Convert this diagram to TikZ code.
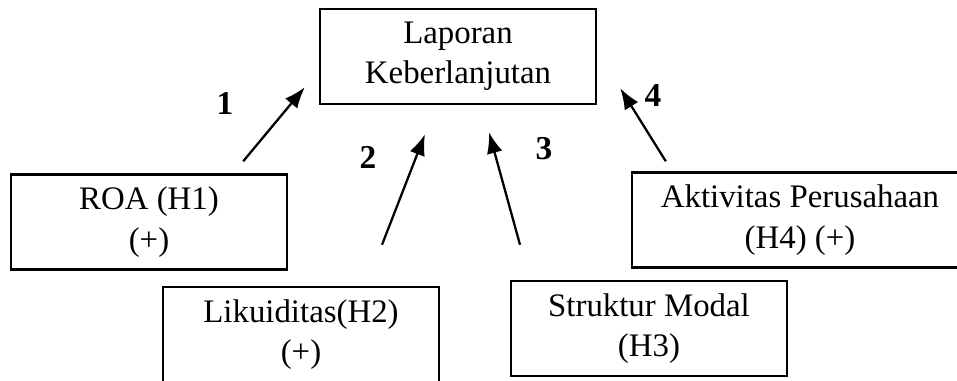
\documentclass[tikz,border=0pt]{standalone}
\usepackage{fontspec}
\setmainfont{Liberation Serif}
\usetikzlibrary{arrows.meta,positioning}
\tikzstyle{arrow} = [line width=1.3pt,-{Latex[length=12pt,width=9pt]}]

\begin{document}
\begin{tikzpicture}[
    x=0.02cm, y=-0.02cm,
    box/.style={rectangle, draw=black, line width=1.4pt, minimum width=5.52cm, minimum height=1.9cm,
        align=center, font=\fontsize{18.7}{23}\selectfont},
    num/.style={font=\fontsize{19}{23}\selectfont\bfseries}
]
\useasboundingbox (0,0) rectangle (957,380);
\clip (0,0) rectangle (957,380);

% Dependent variable
\node[box] (lap) at (458,56.5) {Laporan\\Keberlanjutan};

% Independent variables
\node[box] (roa) at (149,222) {ROA (H1)\\(+)};
\node[box] (liq) at (301,334.5) {Likuiditas(H2)\\(+)};
\node[box] (str) at (649,328.5) {Struktur Modal\\(H3)};
\node[box, minimum width=6.72cm] (akt) at (800,220) {Aktivitas Perusahaan\\(H4) (+)};

% Hypothesis arrows
\draw[arrow] ([shift={(-45,-12)}]roa.north east) -- ([shift={(-14,-18)}]lap.south west);
\draw[arrow] ([shift={(81,-41)}]liq.north) -- ([shift={(-33,29)}]lap.south);
\draw[arrow] ([shift={(-129,-35)}]str.north) -- ([shift={(31,27)}]lap.south);
\draw[arrow] ([shift={(35,-10)}]akt.north west) -- ([shift={(23,-17)}]lap.south east);

% Hypothesis numbers
\node[num] (n1) at (225,103) {1};
\node[num] (n2) at (368,157) {2};
\node[num] (n3) at (544,149) {3};
\node[num] (n4) at (653,96) {4};

\end{tikzpicture}
\end{document}
